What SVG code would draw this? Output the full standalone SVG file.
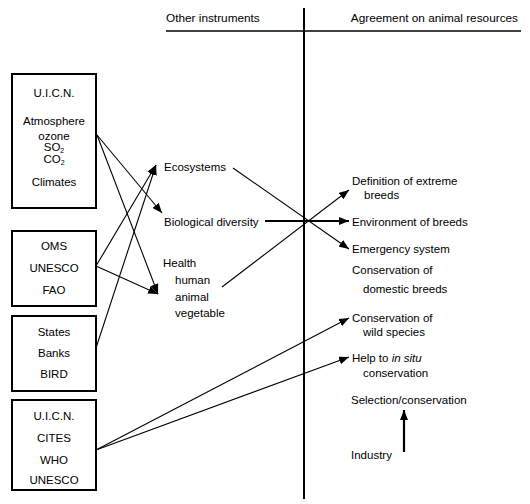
<svg xmlns="http://www.w3.org/2000/svg" width="530" height="504" viewBox="0 0 530 504">
<style>
text{font-family:"Liberation Sans",Arial,sans-serif;font-size:11.5px;fill:#000}
.c{text-anchor:middle}
.h{font-size:11.8px}
.box{fill:#fff;stroke:#000;stroke-width:2}
.ln{stroke:#000;stroke-width:1.1;fill:none}
.th{stroke:#000;stroke-width:2.2;fill:none}
</style>
<defs>
<marker id="ah" viewBox="0 0 10 8" refX="10" refY="4" markerWidth="10" markerHeight="8" markerUnits="userSpaceOnUse" orient="auto">
<path d="M0,0 L10,4 L0,8 Z" fill="#000"/>
</marker>
</defs>
<g id="frame">
<text class="h" x="166" y="22">Other instruments</text>
<text class="h" x="518" y="22" style="text-anchor:end">Agreement on animal resources</text>
<line x1="166" y1="31" x2="521" y2="31" stroke="#000" stroke-width="1.5"/>
<line x1="304" y1="8" x2="304" y2="499" stroke="#000" stroke-width="2"/>
</g>
<g id="box1">
<rect class="box" x="12" y="74" width="84" height="134"/>
<text class="c" x="54" y="97">U.I.C.N.</text>
<text class="c" x="54" y="125">Atmosphere</text>
<text class="c" x="54" y="140">ozone</text>
<text class="c" x="54" y="151" font-size="11">SO<tspan dy="1.5" font-size="7">2</tspan></text>
<text class="c" x="54" y="163" font-size="11">CO<tspan dy="1.5" font-size="7">2</tspan></text>
<text class="c" x="54" y="186">Climates</text>
</g>
<g id="box2">
<rect class="box" x="12" y="231" width="84" height="75"/>
<text class="c" x="54" y="250">OMS</text>
<text class="c" x="54" y="272">UNESCO</text>
<text class="c" x="54" y="294">FAO</text>
</g>
<g id="box3">
<rect class="box" x="12" y="316" width="84" height="75"/>
<text class="c" x="54" y="336">States</text>
<text class="c" x="54" y="357">Banks</text>
<text class="c" x="54" y="378">BIRD</text>
</g>
<g id="box4">
<rect class="box" x="12" y="400" width="84" height="90"/>
<text class="c" x="54" y="420">U.I.C.N.</text>
<text class="c" x="54" y="442">CITES</text>
<text class="c" x="54" y="464">WHO</text>
<text class="c" x="54" y="484">UNESCO</text>
</g>
<g id="ecosystems"><text x="164" y="171">Ecosystems</text></g>
<g id="biodiversity"><text x="164" y="226">Biological diversity</text></g>
<g id="health">
<text x="163" y="267">Health</text>
<text x="175" y="284">human</text>
<text x="175" y="301">animal</text>
<text x="175" y="317">vegetable</text>
</g>
<g id="definition"><text x="352" y="185">Definition of extreme</text><text x="364" y="199">breeds</text></g>
<g id="environment"><text x="352" y="226">Environment of breeds</text></g>
<g id="emergency"><text x="352" y="253">Emergency system</text></g>
<g id="domestic"><text x="352" y="274">Conservation of</text><text x="363" y="293">domestic breeds</text></g>
<g id="wild"><text x="352" y="322">Conservation of</text><text x="363" y="336">wild species</text></g>
<g id="insitu"><text x="352" y="362">Help to <tspan font-style="italic">in situ</tspan></text><text x="363" y="377">conservation</text></g>
<g id="selection"><text x="351" y="404">Selection/conservation</text></g>
<g id="industry"><text x="351" y="459">Industry</text></g>
<g id="connectors">
<line class="ln" x1="97" y1="135" x2="162" y2="213" marker-end="url(#ah)"/>
<line class="ln" x1="97" y1="135" x2="158" y2="294" marker-end="url(#ah)"/>
<line class="ln" x1="96" y1="266" x2="158" y2="294" marker-end="url(#ah)"/>
<line class="ln" x1="96" y1="266" x2="156" y2="165" marker-end="url(#ah)"/>
<line class="ln" x1="96" y1="348" x2="156" y2="165" marker-end="url(#ah)"/>
<line class="ln" x1="233" y1="168" x2="349" y2="249" marker-end="url(#ah)"/>
<line class="th" x1="265" y1="221" x2="349" y2="221" marker-end="url(#ah)"/>
<line class="ln" x1="222" y1="287" x2="349" y2="190" marker-end="url(#ah)"/>
<line class="ln" x1="96" y1="450" x2="349" y2="318" marker-end="url(#ah)"/>
<line class="ln" x1="96" y1="450" x2="349" y2="357" marker-end="url(#ah)"/>
<line class="th" x1="404" y1="452" x2="404" y2="410" marker-end="url(#ah)"/>
</g>
</svg>
